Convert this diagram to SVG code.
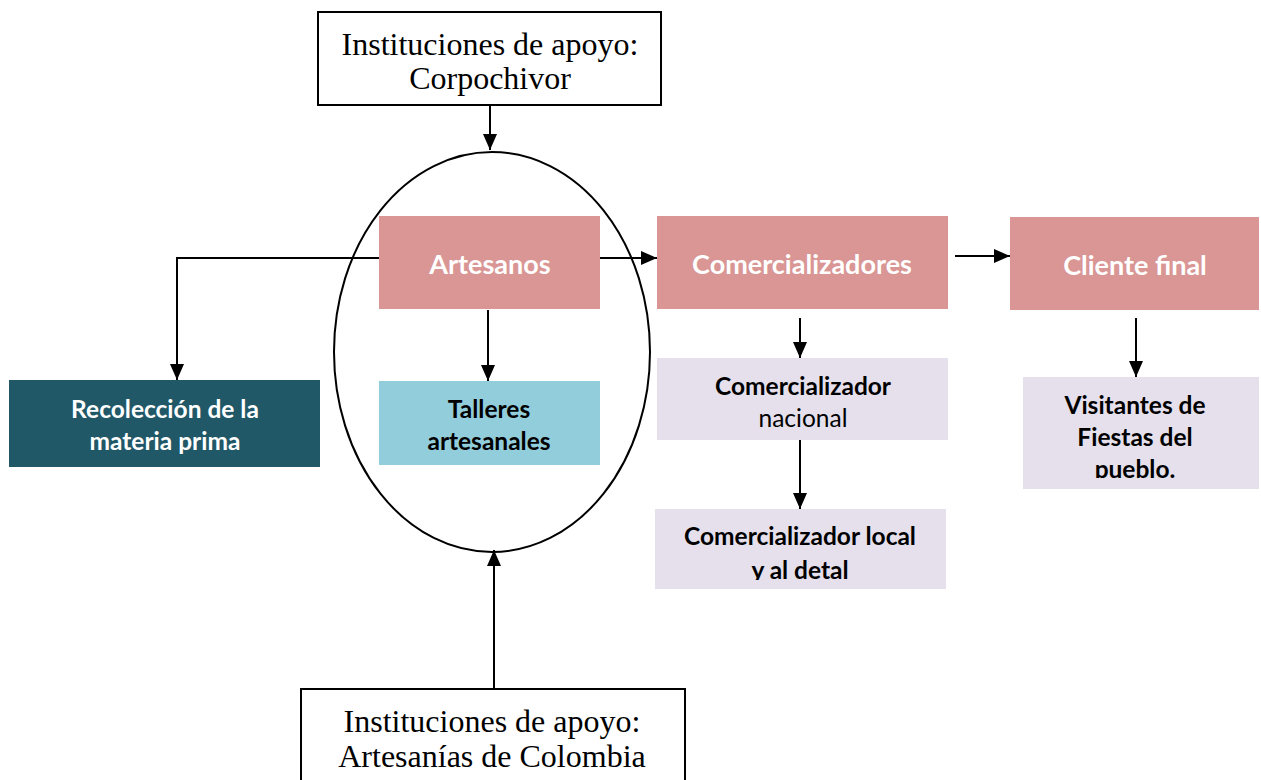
<svg xmlns="http://www.w3.org/2000/svg" width="1261" height="780" viewBox="0 0 1261 780">
<style>
.box{stroke:#000;stroke-width:2;fill:#fff}
.serif{font-family:"Liberation Serif","Times New Roman",serif;font-size:32px;fill:#000;text-anchor:middle}
.pink{fill:#D99694}
.lav{fill:#E5E0EC}
.wt{font-family:Lato,"Open Sans",sans-serif;font-weight:bold;font-size:27px;fill:#fff;text-anchor:middle}
.ws{font-family:Lato,"Open Sans",sans-serif;font-weight:bold;font-size:24.5px;fill:#fff;text-anchor:middle}
.bt{font-family:Lato,"Open Sans",sans-serif;font-weight:bold;font-size:24.5px;fill:#000;text-anchor:middle}
.nt{font-family:Lato,"Open Sans",sans-serif;font-size:24.5px;fill:#000;text-anchor:middle}
.ln{stroke:#000;stroke-width:2;fill:none}
</style>
<defs>
<marker id="a" markerWidth="16" markerHeight="16" refX="16" refY="8" orient="auto" markerUnits="userSpaceOnUse" viewBox="0 0 16 16">
<path d="M0,1 L16,8 L0,15 z" fill="#000"/>
</marker>
<clipPath id="cl1"><rect x="655" y="509" width="291" height="71"/></clipPath>
<clipPath id="cl2"><rect x="1023" y="377" width="236" height="101"/></clipPath>
</defs>
<g id="connectors">
<line class="ln" x1="490" y1="105" x2="490" y2="150" marker-end="url(#a)"/>
<polyline class="ln" points="379,258 177,258 177,380" marker-end="url(#a)"/>
<line class="ln" x1="600" y1="258" x2="657" y2="258" marker-end="url(#a)"/>
<line class="ln" x1="955" y1="256" x2="1010" y2="256" marker-end="url(#a)"/>
<line class="ln" x1="488" y1="310" x2="488" y2="381" marker-end="url(#a)"/>
<line class="ln" x1="800" y1="318" x2="800" y2="358" marker-end="url(#a)"/>
<line class="ln" x1="800" y1="440" x2="800" y2="509" marker-end="url(#a)"/>
<line class="ln" x1="1136" y1="318" x2="1136" y2="377" marker-end="url(#a)"/>
<line class="ln" x1="494" y1="689" x2="494" y2="550" marker-end="url(#a)"/>
</g>
<g id="ellipse"><ellipse class="ln" cx="492" cy="352" rx="158" ry="200"/></g>
<g id="corpochivor">
<rect class="box" x="318" y="12" width="343" height="93"/>
<text class="serif" x="490" y="55">Instituciones de apoyo:</text>
<text class="serif" x="490" y="89">Corpochivor</text>
</g>
<g id="artesanias">
<rect class="box" x="301" y="689" width="384" height="100"/>
<text class="serif" x="492" y="732">Instituciones de apoyo:</text>
<text class="serif" x="492" y="767">Artesanías de Colombia</text>
</g>
<g id="artesanos">
<rect class="pink" x="379" y="216" width="221" height="93"/>
<text class="wt" x="490" y="274">Artesanos</text>
</g>
<g id="comercializadores">
<rect class="pink" x="657" y="216" width="291" height="93"/>
<text class="wt" x="802" y="274">Comercializadores</text>
</g>
<g id="cliente">
<rect class="pink" x="1010" y="217" width="249" height="93"/>
<text class="wt" x="1135" y="275">Cliente final</text>
</g>
<g id="recoleccion">
<rect fill="#215868" x="9" y="380" width="311" height="87"/>
<text class="ws" x="165" y="418">Recolección de la</text>
<text class="ws" x="165" y="450">materia prima</text>
</g>
<g id="talleres">
<rect fill="#92CDDC" x="379" y="381" width="221" height="84"/>
<text class="bt" x="489" y="418">Talleres</text>
<text class="bt" x="489" y="450">artesanales</text>
</g>
<g id="nacional">
<rect class="lav" x="657" y="358" width="291" height="82"/>
<text class="bt" x="803" y="395">Comercializador</text>
<text class="nt" x="803" y="427">nacional</text>
</g>
<g id="local">
<rect class="lav" x="655" y="509" width="291" height="80"/>
<g clip-path="url(#cl1)">
<text class="bt" x="800" y="545">Comercializador local</text>
<text class="bt" x="800" y="579">y al detal</text>
</g>
</g>
<g id="visitantes">
<rect class="lav" x="1023" y="377" width="236" height="112"/>
<g clip-path="url(#cl2)">
<text class="bt" x="1135" y="414">Visitantes de</text>
<text class="bt" x="1135" y="446">Fiestas del</text>
<text class="bt" x="1135" y="478">pueblo.</text>
</g>
</g>
</svg>
